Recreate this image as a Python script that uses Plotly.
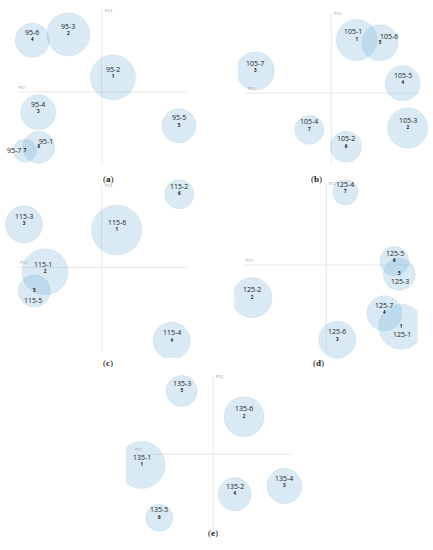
import plotly.graph_objects as go

# --- Data: PC scores (plot units) and bubble sizes for each panel ---
# (a) 95
a_names = ["95-6", "95-3", "95-2", "95-4", "95-5", "95-1", "95-7"]
a_ids = ["4", "2", "1", "3", "5", "6", "7"]
a_pc1 = [-69.4, -33.4, 11.3, -63.4, 77.3, -63.0, -76.7]
a_pc2 = [51.7, 57.7, 14.7, -20.3, -33.7, -55.3, -58.7]
a_size = [34, 43, 45, 35, 34, 32, 23]

# (b) 105
b_names = ["105-1", "105-6", "105-7", "105-5", "105-3", "105-4", "105-2"]
b_ids = ["1", "5", "3", "4", "2", "7", "6"]
b_pc1 = [25.4, 48.7, -76.0, 71.4, 76.4, -22.0, 14.7]
b_pc2 = [53.0, 50.3, 22.0, 9.7, -35.0, -36.7, -53.7]
b_size = [41, 36, 38, 35, 40, 29, 31]

# (c) 115
c_names = ["115-2", "115-3", "115-6", "115-1", "115-5", "115-4"]
c_ids = ["6", "3", "1", "2", "5", "4"]
c_pc1 = [77.6, -77.7, 15.0, -56.7, -67.4, 70.0]
c_pc2 = [73.0, 43.0, 37.3, -4.4, -23.7, -73.4]
c_size = [29, 37, 50, 46, 32, 37]

# (d) 125
d_names = ["125-4", "125-5", "125-3", "125-2", "125-7", "125-1", "125-6"]
d_ids = ["7", "6", "5", "2", "4", "1", "3"]
d_pc1 = [19.0, 68.0, 73.0, -74.3, 58.0, 74.7, 11.0]
d_pc2 = [72.7, 4.0, -9.3, -32.7, -48.3, -61.7, -74.7]
d_size = [25, 29, 32, 40, 35, 45, 37]

# (e) 135
e_names = ["135-3", "135-6", "135-1", "135-4", "135-2", "135-5"]
e_ids = ["5", "2", "1", "3", "4", "6"]
e_pc1 = [-31.6, 30.7, -71.6, 71.0, 21.4, -54.0]
e_pc2 = [63.3, 37.6, -10.7, -31.7, -40.0, -63.4]
e_size = [31, 40, 47, 35, 33, 27]

# PC axis spans [pc1_min, pc1_max, pc2_min, pc2_max]
axis_spans = {
    "a": [-84.7, 85.3, -73.0, 82.0],
    "b": [-85.3, 88.7, -72.0, 79.7],
    "c": [-83.7, 86.6, -84.4, 82.3],
    "d": [-82.0, 86.4, -85.0, 82.0],
    "e": [-80.3, 78.4, -77.4, 77.6],
}

W, H = 433, 550

# --- Layout of panels: clip box in px (left, top, right, bottom), origin px, caption px ---
panels = [
    ("a", a_names, a_ids, a_pc1, a_pc2, a_size, (0, 0, 214, 168), (101.7, 92.0), (101, 172)),
    ("b", b_names, b_ids, b_pc1, b_pc2, b_size, (237.7, 0, 433, 168), (331.3, 93.0), (324, 172)),
    ("c", c_names, c_ids, c_pc1, c_pc2, c_size, (5, 178, 214, 358), (101.7, 267.3), (101, 363)),
    ("d", d_names, d_ids, d_pc1, d_pc2, d_size, (234.3, 176, 417.7, 360), (326.3, 265.0), (326, 363)),
    ("e", e_names, e_ids, e_pc1, e_pc2, e_size, (126, 368, 320, 535), (213.3, 454.3), (213, 540)),
]

# name label offsets (xshift, yshift) where they differ from "above the centre"
name_offsets = {
    "95-1": (7, 6), "95-7": (-11, 0),
    "105-1": (-4, 9), "105-6": (9, 6),
    "115-1": (-2, 7.5), "115-5": (-1, -9),
    "125-5": (1, 7.5), "125-3": (1, -7), "125-1": (1, -8),
}

FILL = "rgba(100,170,210,0.34)"
EDGE = "rgba(120,180,215,0.45)"
NAME_FONT = dict(family="Open Sans", size=7, color="#222222")
ID_FONT = dict(family="Open Sans", size=4.5, color="#111111")

fig = go.Figure()
annotations = []
layout_axes = {}

for i, (tag, names, ids, pc1, pc2, sizes, box, origin, cap) in enumerate(panels):
    n = "" if i == 0 else str(i + 1)
    xa, ya = "x" + n, "y" + n
    left, top, right, bottom = box
    ox, oy = origin

    layout_axes["xaxis" + n] = dict(
        domain=[left / W, right / W], range=[left - ox, right - ox],
        visible=False, fixedrange=True, anchor=ya)
    layout_axes["yaxis" + n] = dict(
        domain=[1 - bottom / H, 1 - top / H], range=[oy - bottom, oy - top],
        visible=False, fixedrange=True, anchor=xa)

    span = axis_spans[tag]
    # PC axes
    fig.add_trace(go.Scatter(x=[span[0], span[1]], y=[0, 0], mode="lines",
                             line=dict(color="#e2e2e2", width=0.8),
                             xaxis=xa, yaxis=ya, hoverinfo="skip", showlegend=False))
    fig.add_trace(go.Scatter(x=[0, 0], y=[span[2], span[3]], mode="lines",
                             line=dict(color="#e2e2e2", width=0.8),
                             xaxis=xa, yaxis=ya, hoverinfo="skip", showlegend=False))

    # bubbles
    fig.add_trace(go.Scatter(
        x=pc1, y=pc2, mode="markers+text",
        marker=dict(size=sizes, sizemode="diameter", color=FILL,
                    line=dict(color=EDGE, width=0.6)),
        text=["<b>%s</b>" % s for s in ids], textposition="middle center",
        textfont=ID_FONT, cliponaxis=True,
        xaxis=xa, yaxis=ya, hovertext=names, hoverinfo="text", showlegend=False))

    # bubble names
    for name, x, y in zip(names, pc1, pc2):
        dx, dy = name_offsets.get(name, (0, 8))
        annotations.append(dict(x=x, y=y, xref=xa, yref=ya, text=name,
                                showarrow=False, font=NAME_FONT,
                                xshift=dx, yshift=dy))

    # PC labels
    annotations.append(dict(x=span[0], y=0, xref=xa, yref=ya, text="PC1",
                            showarrow=False, xanchor="left", yanchor="bottom",
                            font=dict(family="Open Sans", size=4, color="#888888")))
    annotations.append(dict(x=0, y=span[3], xref=xa, yref=ya, text="PC2",
                            showarrow=False, xanchor="left", yanchor="middle",
                            xshift=1, font=dict(family="Open Sans", size=4, color="#888888")))

    # caption
    annotations.append(dict(x=cap[0] / W, y=1 - cap[1] / H, xref="paper", yref="paper",
                            text="(<b>%s</b>)" % tag, showarrow=False,
                            font=dict(family="Liberation Serif", size=9, color="#111111")))

fig.update_layout(
    width=W, height=H, margin=dict(l=0, r=0, t=0, b=0),
    paper_bgcolor="white", plot_bgcolor="rgba(0,0,0,0)",
    annotations=annotations, showlegend=False,
    **layout_axes)

# page body has an 8px default margin; drop it so the figure sits at the window corner
fig.write_html("out.html", config={"displayModeBar": False},
               post_script="document.body.style.margin='0';")
